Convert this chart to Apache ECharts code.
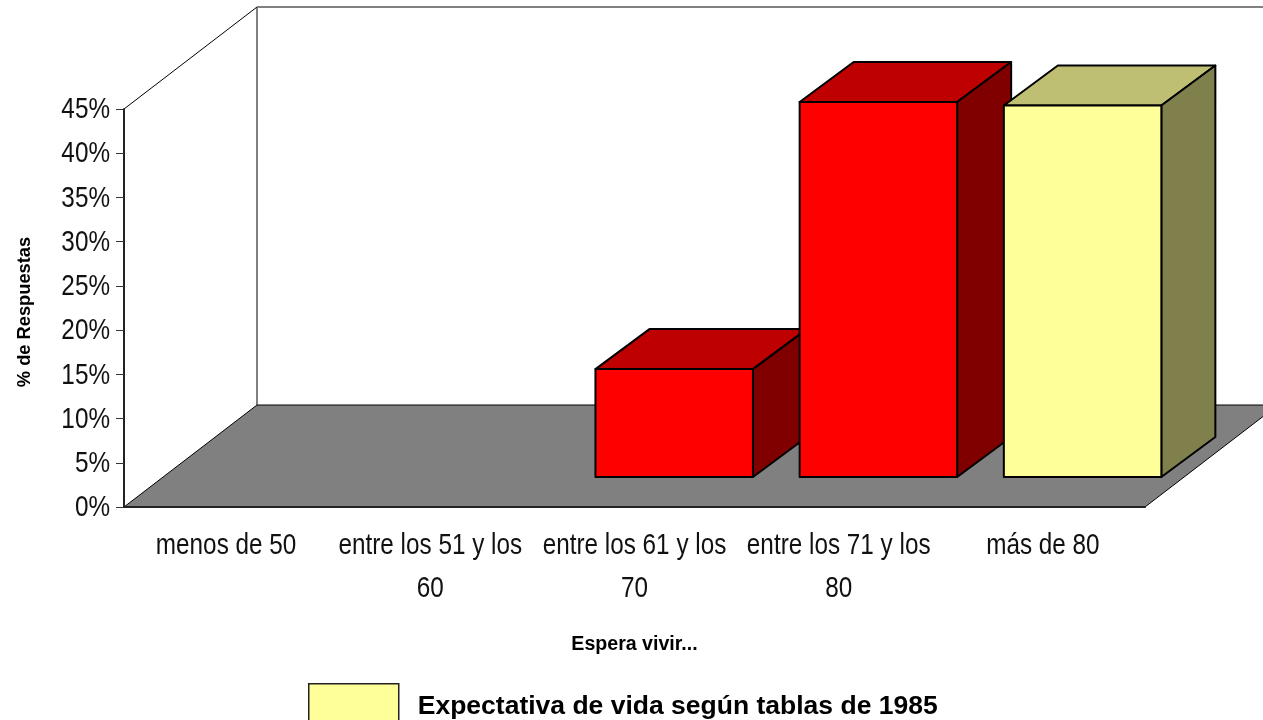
<!DOCTYPE html>
<html>
<head>
<meta charset="utf-8">
<style>
    html, body {margin: 0; padding: 0; background: #fff;}
    #main1 {width: 1263px; height: 720px;}
</style>
<script src="https://cdn.jsdelivr.net/npm/echarts@6/dist/echarts.min.js"></script>
</head>
<body>
<div id="main1"></div>
<script>
var xdata = ['menos de 50', 'entre los 51 y los\n60', 'entre los 61 y los\n70', 'entre los 71 y los\n80', 'más de 80'];
var serdata = [0, 0, 12.2, 42.4, 42];
var ticks = [0, 5, 10, 15, 20, 25, 30, 35, 40, 45];
var serName = 'Expectativa de vida según tablas de 1985';

// profundidad del dibujo en 3D (px)
var wallDx = 133, wallDy = 102;
var barDx = 39.7, barDy = 30, barDepthX = 54, barDepthY = 40, barWidth = 157.5;
// no hay Arial Narrow instalada: se estrecha el texto a mano
var labelSize = 30, labelScale = 0.81;

function poly(points, fill, stroke, width) {
    return {
        type: 'polygon',
        shape: {points: points},
        style: {fill: fill, stroke: stroke, lineWidth: width, lineJoin: 'round'}
    };
}

// pared, lateral y suelo
function renderWalls(params, api) {
    var band = api.size([1, 0])[0];
    var x0 = api.coord([0, 0])[0] - band / 2;
    var x1 = x0 + band * xdata.length;
    var y0 = api.coord([0, 0])[1];
    var y1 = api.coord([0, 45])[1];
    return {
        type: 'group',
        children: [
            poly([[x0, y0], [x0 + wallDx, y0 - wallDy], [x1 + wallDx, y0 - wallDy], [x1, y0]], '#808080', '#000', 1),
            {type: 'line', shape: {x1: x0, y1: y1, x2: x0 + wallDx, y2: y1 - wallDy}, style: {stroke: '#000', lineWidth: 1}},
            {type: 'line', shape: {x1: x0 + wallDx, y1: y1 - wallDy, x2: x0 + wallDx, y2: y0 - wallDy}, style: {stroke: '#000', lineWidth: 1}},
            {type: 'line', shape: {x1: x0 + wallDx, y1: y1 - wallDy, x2: x1 + wallDx, y2: y1 - wallDy}, style: {stroke: '#808080', lineWidth: 2}}
        ]
    };
}

function renderBar(params, api) {
    var idx = api.value(0);
    var val = api.value(1);
    if (!val) {
        return;
    }
    var center = api.coord([idx, 0])[0];
    var left = center - barWidth / 2 + barDx;
    var right = left + barWidth;
    var bottom = api.coord([idx, 0])[1] - barDy;
    var top = api.coord([idx, val])[1] - barDy;
    var last = idx === xdata.length - 1;
    var front = last ? '#FFFF99' : '#FF0000';
    var upper = last ? '#BFBF73' : '#BF0000';
    var side = last ? '#80804D' : '#800000';
    return {
        type: 'group',
        children: [
            poly([[left, top], [left + barDepthX, top - barDepthY], [right + barDepthX, top - barDepthY], [right, top]], upper, '#000', 2),
            poly([[right, top], [right + barDepthX, top - barDepthY], [right + barDepthX, bottom - barDepthY], [right, bottom]], side, '#000', 2),
            poly([[left, top], [right, top], [right, bottom], [left, bottom]], front, '#000', 2)
        ]
    };
}

function renderYLabel(params, api) {
    var p = api.coord([0, api.value(1)]);
    var band = api.size([1, 0])[0];
    return {
        type: 'text',
        x: p[0] - band / 2 - 14,
        y: p[1] + 1,
        scaleX: labelScale,
        style: {
            text: api.value(1) + '%',
            fill: '#111',
            fontFamily: '"Liberation Sans", sans-serif',
            fontSize: labelSize,
            align: 'right',
            verticalAlign: 'middle'
        }
    };
}

function renderXLabel(params, api) {
    var idx = api.value(0);
    var p = api.coord([idx, 0]);
    return {
        type: 'text',
        x: p[0],
        y: p[1] + 17,
        scaleX: labelScale,
        style: {
            text: xdata[idx],
            fill: '#111',
            fontFamily: '"Liberation Sans", sans-serif',
            fontSize: labelSize,
            lineHeight: 43,
            align: 'center',
            verticalAlign: 'top'
        }
    };
}

var myChart = echarts.init(document.getElementById('main1'));
var option = {
    animation: false,
    backgroundColor: '#fff',
    textStyle: {fontFamily: '"Liberation Sans", sans-serif'},
    grid: {left: 124, right: 118, top: 109, bottom: 213},
    legend: {
        left: 308,
        top: 683,
        padding: 0,
        itemWidth: 90,
        itemHeight: 37,
        itemGap: 20,
        selectedMode: false,
        data: [{
            name: serName,
            icon: 'rect',
            itemStyle: {color: '#FFFF99', borderColor: '#222', borderWidth: 1.5}
        }],
        formatter: '{a|{name}}',
        textStyle: {
            rich: {
                a: {
                    color: '#000',
                    fontFamily: '"Liberation Sans", sans-serif',
                    fontWeight: 'bold',
                    fontSize: 26.5,
                    padding: [8, 0, 0, 14]
                }
            }
        }
    },
    xAxis: {
        type: 'category',
        data: xdata,
        z: 5,
        name: 'Espera vivir...',
        nameLocation: 'middle',
        nameGap: 128,
        nameTextStyle: {color: '#000', fontWeight: 'bold', fontSize: 19.6},
        axisLine: {lineStyle: {color: '#222', width: 2}},
        axisTick: {length: 8, lineStyle: {color: '#333', width: 1}},
        axisLabel: {show: false}
    },
    yAxis: {
        type: 'value',
        min: 0,
        max: 45,
        interval: 5,
        z: 5,
        name: '% de Respuestas',
        nameLocation: 'middle',
        nameGap: 90,
        nameRotate: 90,
        nameTextStyle: {color: '#000', fontWeight: 'bold', fontSize: 18.3, padding: [0, 8, 0, 0]},
        axisLine: {show: true, lineStyle: {color: '#222', width: 2}},
        axisTick: {show: true, length: 8, lineStyle: {color: '#333', width: 1}},
        splitLine: {show: false},
        axisLabel: {show: false}
    },
    series: [
        {
            type: 'custom',
            name: 'fondo',
            z: 1,
            clip: false,
            silent: true,
            renderItem: renderWalls,
            data: [[0, 0]]
        },
        {
            type: 'custom',
            name: serName,
            z: 2,
            clip: false,
            renderItem: renderBar,
            encode: {x: 0, y: 1},
            data: serdata.map(function (v, i) {
                return [i, v];
            })
        },
        {
            type: 'custom',
            name: 'etiquetasY',
            z: 6,
            clip: false,
            silent: true,
            renderItem: renderYLabel,
            data: ticks.map(function (v) {
                return [0, v];
            })
        },
        {
            type: 'custom',
            name: 'etiquetasX',
            z: 6,
            clip: false,
            silent: true,
            renderItem: renderXLabel,
            data: xdata.map(function (v, i) {
                return [i, 0];
            })
        }
    ]
};
myChart.setOption(option);
</script>
</body>
</html>
